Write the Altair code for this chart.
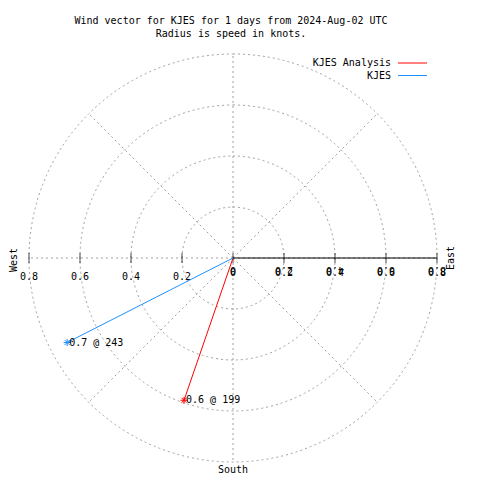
import math
import altair as alt
import pandas as pd

# ---- data ----
stations = ["KJES Analysis", "KJES"]
speeds = [0.59, 0.73]          # knots
directions = [199, 243]        # degrees, clockwise from north
colors = ["#ff0000", "#1e90ff"]

ring_radii = [0.2, 0.4, 0.6, 0.8]
spoke_angles = [0, 45, 90, 135, 180, 225, 270, 315]
right_tick_labels = ["0", "0.2", "0.4", "0.6", "0.8"]
right_tick_values = [0, 0.2, 0.4, 0.6, 0.8]
left_tick_labels = ["0.2", "0.4", "0.6", "0.8"]
left_tick_values = [-0.2, -0.4, -0.6, -0.8]
tick_positions = [-0.8, -0.6, -0.4, -0.2, 0, 0.2, 0.4, 0.6, 0.8]

title_lines = ["Wind vector for KJES for 1 days from 2024-Aug-02 UTC",
               "Radius is speed in knots."]

FONT = "DejaVu Sans Mono"
FS = 10
GRID = "#a0a0a0"
W = 408

xs = alt.Scale(domain=[-0.8, 0.8], nice=False, zero=False)
ys = alt.Scale(domain=[-0.8, 0.8], nice=False, zero=False)

def X(f):
    return alt.X(f, type="quantitative", scale=xs, axis=None)

def Y(f):
    return alt.Y(f, type="quantitative", scale=ys, axis=None)

# rings
rings_df = pd.DataFrame({"r": ring_radii, "c": [0] * len(ring_radii)})
rings = alt.Chart(rings_df).mark_arc(
    theta=0, theta2=2 * math.pi, filled=False, stroke=GRID,
    strokeDash=[2, 3], strokeWidth=1
).encode(
    x=X("c"), y=Y("c"),
    radius=alt.Radius("r:Q", stack=None,
                      scale=alt.Scale(type="linear", domain=[0, 0.8], range=[0, W / 2]))
)

# spokes
spokes_df = pd.DataFrame({"a": spoke_angles})
spokes = alt.Chart(spokes_df).transform_calculate(
    x0="0", y0="0",
    x1="0.8*sin(datum.a*PI/180)", y1="0.8*cos(datum.a*PI/180)"
).mark_rule(stroke=GRID, strokeDash=[2, 3], strokeWidth=1).encode(
    x=X("x0"), y=Y("y0"), x2="x1:Q", y2="y1:Q"
)

# solid east axis
axis_df = pd.DataFrame({"x0": [0], "x1": [0.8], "y0": [0]})
axis_line = alt.Chart(axis_df).mark_rule(color="black", strokeWidth=1).encode(
    x=X("x0"), x2="x1:Q", y=Y("y0")
)

ticks_df = pd.DataFrame({"t": tick_positions, "z": [0] * len(tick_positions)})
ticks = alt.Chart(ticks_df).mark_tick(
    orient="vertical", size=10, thickness=1, color="black"
).encode(x=X("t"), y=Y("z"))

left_df = pd.DataFrame({"v": left_tick_values, "lab": left_tick_labels, "z": 0})
left_labels = alt.Chart(left_df).mark_text(
    font=FONT, fontSize=FS, dy=19, align="center", baseline="middle", color="black"
).encode(x=X("v"), y=Y("z"), text="lab:N")

right_df = pd.DataFrame({
    "v": right_tick_values,
    "lab": right_tick_labels,
    "rev": [s[::-1] for s in right_tick_labels],
    "z": 0,
})
right_base = alt.Chart(right_df)
right_labels = right_base.mark_text(
    font=FONT, fontSize=FS, dy=15, align="center", baseline="middle", color="black"
).encode(x=X("v"), y=Y("z"), text="lab:N")
right_flip = right_base.mark_text(
    font=FONT, fontSize=FS, dy=-12, angle=180, align="center", baseline="middle", color="black"
).encode(x=X("v"), y=Y("z"), text="rev:N")

# wind vectors
wind_df = pd.DataFrame({"station": stations, "speed": speeds, "dir": directions})
wind = alt.Chart(wind_df).transform_calculate(
    x0="0", y0="0",
    x1="datum.speed*sin(datum.dir*PI/180)",
    y1="datum.speed*cos(datum.dir*PI/180)",
    lab="format(datum.speed, '.1f') + ' @ ' + datum.dir"
)
cscale = alt.Scale(domain=stations, range=colors)
vec = wind.mark_rule(strokeWidth=1).encode(
    x=X("x0"), y=Y("y0"), x2="x1:Q", y2="y1:Q",
    color=alt.Color("station:N", scale=cscale, legend=None)
)
STAR = "M-1,0L1,0M0,-1L0,1M-0.7,-0.7L0.7,0.7M-0.7,0.7L0.7,-0.7"
stars = wind.mark_point(shape=STAR, size=49, filled=False, strokeWidth=1, opacity=1).encode(
    x=X("x1"), y=Y("y1"),
    color=alt.Color("station:N", scale=cscale, legend=None)
)
vlabels = wind.mark_text(font=FONT, fontSize=FS, align="left", baseline="middle", dx=2, color="black").encode(
    x=X("x1"), y=Y("y1"), text="lab:N"
)

# titles
title_df = pd.DataFrame({"t": title_lines, "yy": [-33, -20.5]})
titles = alt.Chart(title_df).mark_text(font=FONT, fontSize=FS, align="center", baseline="middle", color="black").encode(
    x=alt.value(202), y=alt.Y("yy:Q", scale=None), text="t:N"
)

# compass
comp_df = pd.DataFrame({"t": ["West", "East"], "px": [-15.5, 422], "py": [206, 204]})
compass = alt.Chart(comp_df).mark_text(font=FONT, fontSize=FS, angle=270, align="center", baseline="middle", color="black").encode(
    x=alt.X("px:Q", scale=None), y=alt.Y("py:Q", scale=None), text="t:N"
)
south_df = pd.DataFrame({"t": ["South"]})
south = alt.Chart(south_df).mark_text(font=FONT, fontSize=FS, align="center", baseline="middle", color="black").encode(
    x=alt.value(204), y=alt.value(416), text="t:N"
)

# legend
leg_df = pd.DataFrame({"station": stations, "ly": [9, 21.5]})
leg_text = alt.Chart(leg_df).mark_text(font=FONT, fontSize=FS, align="right", baseline="middle", color="black").encode(
    x=alt.value(362), y=alt.Y("ly:Q", scale=None), text="station:N"
)
leg_lines = alt.Chart(leg_df).mark_rule(strokeWidth=1).encode(
    x=alt.value(369), x2=alt.value(398), y=alt.Y("ly:Q", scale=None),
    color=alt.Color("station:N", scale=cscale, legend=None)
)

chart = alt.layer(
    rings, spokes, axis_line, ticks, left_labels, right_labels, right_flip,
    vec, stars, vlabels, titles, compass, south, leg_text, leg_lines
).properties(
    width=W, height=W,
    autosize=alt.AutoSizeParams(type="none"),
    padding={"left": 21, "top": 46, "right": 35, "bottom": 14}
).configure_view(stroke=None).resolve_scale(color="shared")

chart.save("out.html", embed_options={"renderer": "svg", "actions": False})
